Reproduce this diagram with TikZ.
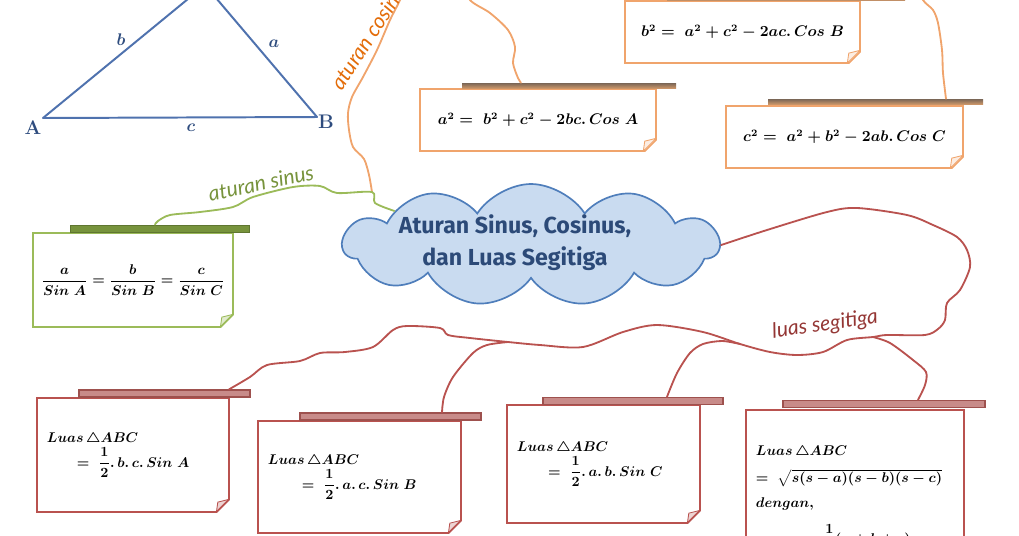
\documentclass[tikz,border=0pt]{standalone}
\usepackage{amsmath,amssymb}
\usepackage{fontspec}
\newfontfamily\titlefont{Fira Sans}
\newfontfamily\handfont{Lato}
\usetikzlibrary{shapes.misc,shapes.symbols}
\definecolor{triline}{HTML}{4F72AE}
\definecolor{trilab}{HTML}{2E4C7E}
\definecolor{cosedge}{HTML}{F0A46C}
\definecolor{cosbartop}{HTML}{7A6656}
\definecolor{cosbarbot}{HTML}{C99468}
\definecolor{sinedge}{HTML}{9BBB59}
\definecolor{sinbar}{HTML}{77933C}
\definecolor{luasedge}{HTML}{B9524F}
\definecolor{luasbar}{HTML}{B05A57}
\definecolor{cloudfill}{HTML}{C9DBF0}
\definecolor{cloudedge}{HTML}{4F7EBB}
\definecolor{titleblue}{HTML}{2C4A78}
\definecolor{coslab}{HTML}{E36C09}
\definecolor{luaslab}{HTML}{943634}
\newcommand{\unitpx}{0.025cm}
\tikzset{
  note/.style 2 args={chamfered rectangle,chamfered rectangle corners=south east,
    chamfered rectangle xsep=6pt,draw=#1,fill=white,line width=1.2pt,
    inner sep=0pt,font=\fontsize{10.5}{13}\selectfont\boldmath,
    path picture={\filldraw[draw=#1,fill=#2,line width=0.6pt]
      ([xshift=-9pt]path picture bounding box.south east) --
      ([xshift=-8pt,yshift=7pt]path picture bounding box.south east) --
      ([yshift=9pt]path picture bounding box.south east) -- cycle;}},
  luasnote/.style={note={luasedge}{luasedge!25},align=left,inner xsep=0.04cm,
    font=\fontsize{10}{13}\selectfont\boldmath},
  cosbar/.style={rectangle,inner sep=0pt,minimum height=5*\unitpx,
    top color=cosbartop,bottom color=cosbarbot,draw=none},
  sinbar/.style={rectangle,inner sep=0pt,minimum height=7*\unitpx,
    fill=sinbar,draw=sinbar!80!black,line width=0.6pt},
  luasbar/.style={rectangle,inner sep=0pt,minimum height=7*\unitpx,
    fill=luasbar!70!white,draw=luasbar!90!black,line width=0.9pt},
  conn/.style={line width=1.3pt,line join=round,line cap=round},
  handlabel/.style={font=\handfont\itshape\fontsize{15}{17}\selectfont,inner sep=0pt},
  trilabel/.style={text=trilab,inner sep=0pt}
}
\begin{document}
\begin{tikzpicture}[x=\unitpx,y=-\unitpx]
\useasboundingbox (0,0) rectangle (1019,535);
\clip (0,0) rectangle (1019,535);

% triangle ABC
\coordinate (vA) at (43,118);
\coordinate (vB) at (317,117);
\coordinate (vC) at (205,-15);
\draw[triline,line width=1.4pt,line join=round] (vA) -- (vB) -- (vC) -- cycle;
\node[trilabel,font=\fontsize{14}{16}\selectfont\bfseries] (labA) at (33,128) {A};
\node[trilabel,font=\fontsize{14}{16}\selectfont\bfseries] (labB) at (326,122) {B};
\node[trilabel,font=\fontsize{12}{14}\selectfont\boldmath] (labb) at (121,40) {$b$};
\node[trilabel,font=\fontsize{12}{14}\selectfont\boldmath] (laba) at (274,44) {$a$};
\node[trilabel,font=\fontsize{12}{14}\selectfont\boldmath] (labc) at (191,128) {$c$};

% central cloud
\node[cloud,cloud puffs=11,cloud puff arc=115,cloud ignores aspect,
  minimum width=376*\unitpx,minimum height=122*\unitpx,
  fill=cloudfill,draw=cloudedge,line width=1.2pt] (cloud) at (531,245) {};
\node[font=\titlefont\bfseries\fontsize{16.5}{22.7}\selectfont,text=titleblue,align=center]
  (title) at (515,243) {Aturan Sinus, Cosinus,\\dan Luas Segitiga};

% aturan cosinus
\node[note={cosedge}{cosedge!20}] (cosA) at (538,120)
  [minimum width=236*\unitpx,minimum height=62*\unitpx] {$a^2 =\ b^2 + c^2 - 2bc.\,Cos\ A$};
\node[note={cosedge}{cosedge!20}] (cosB) at (742.5,32)
  [minimum width=235*\unitpx,minimum height=62*\unitpx] {$b^2 =\ a^2 + c^2 - 2ac.\,Cos\ B$};
\node[note={cosedge}{cosedge!20}] (cosC) at (844.5,137)
  [minimum width=237*\unitpx,minimum height=62*\unitpx] {$c^2 =\ a^2 + b^2 - 2ab.\,Cos\ C$};
\node[cosbar,minimum width=214*\unitpx] (barA) at (569,85.5) {};
\node[cosbar,minimum width=238*\unitpx] (barB) at (786,-2) {};
\node[cosbar,minimum width=215*\unitpx] (barC) at (875.5,101.5) {};

% aturan sinus
\node[note={sinedge}{sinedge!30},font=\fontsize{9.8}{12}\selectfont\boldmath] (sinbox) at (133,280)
  [minimum width=198*\unitpx,minimum height=94*\unitpx]
  {$\dfrac{a}{Sin\ A} = \dfrac{b}{Sin\ B} = \dfrac{c}{Sin\ C}$};
\node[sinbar,minimum width=179*\unitpx] (sinbar) at (159.5,228.5) {};

% luas segitiga
\node[luasnote,text width=4.3cm,minimum height=114*\unitpx] (luasA) at (133,455)
  {$Luas\,\triangle ABC$\\[1pt]\hspace*{0.75cm}$=\ \dfrac{1}{2}.\,b.\,c.\,Sin\ A$};
\node[luasnote,text width=4.575cm,minimum height=112*\unitpx] (luasB) at (359.5,477)
  {$Luas\,\triangle ABC$\\[1pt]\hspace*{0.85cm}$=\ \dfrac{1}{2}.\,a.\,c.\,Sin\ B$};
\node[luasnote,text width=4.325cm,minimum height=118*\unitpx] (luasC) at (603.5,464)
  {$Luas\,\triangle ABC$\\[1pt]\hspace*{0.78cm}$=\ \dfrac{1}{2}.\,a.\,b.\,Sin\ C$};
\node[luasnote,text width=4.95cm,minimum height=180*\unitpx] (luasD) at (855,500)
  {$Luas\,\triangle ABC$\\[6pt]\mbox{$=\ \sqrt{s(s-a)(s-b)(s-c)}$}\\[5pt]$dengan,$\\[9pt]
   \hspace*{0.85cm}$s =\ \dfrac{1}{2}(a+b+c)$};
\node[luasbar,minimum width=171*\unitpx] (barLA) at (164.5,393.5) {};
\node[luasbar,minimum width=181*\unitpx] (barLB) at (390.5,416.5) {};
\node[luasbar,minimum width=180*\unitpx] (barLC) at (633,401) {};
\node[luasbar,minimum width=202*\unitpx] (barLD) at (884,404) {};

% connectors
\coordinate (hub) at (372,192);
\coordinate (cosJ) at (412,-30);
\coordinate (cosJa) at (462,-20);
\coordinate (cosJc) at (915,-20);
\coordinate (jB) at (508,342);
\coordinate (jC) at (740,344);
\coordinate (jD) at (873,337);
\draw[conn,cosedge] plot[smooth] coordinates {(hub) (369,175) (364,159) (353,147)
  (349,130) (348,113) (352,97) (363,77) (377,50) (390,20) (400,0) (cosJ)};
\draw[conn,cosedge] plot[smooth] coordinates {(cosJa) (470,0) (490,13) (508,30)
  (515,47) (513,63) (518,78) (barA.north -| 521,0)};
\draw[conn,cosedge] plot[smooth] coordinates {(cosJc) (923,0) (933,10) (938,23)
  (942,50) (943,73) (barC.north -| 946,0)};
\draw[conn,sinedge] plot[smooth] coordinates {(cloud.166) (375,203) (hub) (337,193)
  (320,186) (293,187) (253,197) (233,207) (200,212) (170,215) (158,221) (sinbar.north -| 155,0)};
\draw[conn,luasedge] plot[smooth] coordinates {(cloud.east) (767,230) (827,212)
  (857,208) (907,215) (933,225) (957,237) (967,250) (970,267) (960,290) (947,303)
  (945,320) (938,329) (925,335) (887,335) (jD) (847,340) (823,352) (797,355) (770,352)
  (jC) (703,332) (657,325) (623,332) (583,347) (540,345) (jB) (470,338) (448,335)
  (440,328) (407,326) (393,330) (373,347) (345,352) (320,353) (300,361) (267,365)
  (250,377) (barLA.north -| 229,0)};
\draw[conn,luasedge] plot[smooth] coordinates {(jB) (487,345) (473,353) (453,377)
  (444,397) (barLB.north -| 442,0)};
\draw[conn,luasedge] plot[smooth] coordinates {(jC) (722,341) (703,344) (690,353)
  (677,373) (barLC.north -| 667,0)};
\draw[conn,luasedge] plot[smooth] coordinates {(jD) (890,343) (913,360) (926,372)
  (925,385) (barLD.north -| 918,0)};

% branch labels
\node[handlabel,text=sinbar,rotate=12] (sinlab) at (261,183) {aturan sinus};
\node[handlabel,text=coslab,rotate=57,anchor=south west] (coslab) at (342,92) {aturan cosinus};
\node[handlabel,text=luaslab,rotate=8] (luaslab) at (825,325) {luas segitiga};
\end{tikzpicture}
\end{document}
